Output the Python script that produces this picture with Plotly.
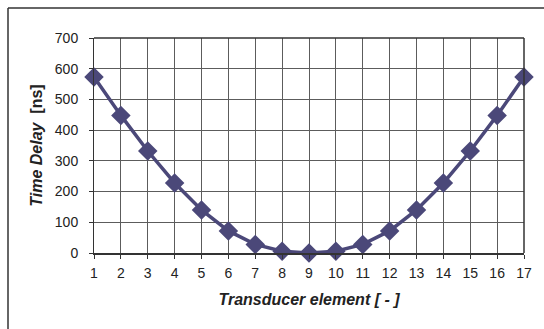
import plotly.graph_objects as go

# Transducer element index and the focusing time delay applied to each
elements = list(range(1, 18))
delay_ns = [573, 448, 332, 228, 140, 72, 28, 6, 0, 6, 28, 72, 140, 228, 332, 448, 573]

y_ticks = [0, 100, 200, 300, 400, 500, 600, 700]

line_color = "#4b4879"
grid_color = "#5c5c5c"
font_family = "Liberation Sans, Arial, sans-serif"

fig = go.Figure()
fig.add_trace(go.Scatter(
    x=elements,
    y=delay_ns,
    mode="lines+markers",
    line=dict(color=line_color, width=3.5),
    marker=dict(symbol="diamond", size=15, color=line_color),
    cliponaxis=False,
    showlegend=False,
))

fig.update_layout(
    width=544,
    height=329,
    margin=dict(l=94, r=15, t=38, b=76),
    paper_bgcolor="white",
    plot_bgcolor="white",
    font=dict(family=font_family, size=14, color="#222222"),
    xaxis=dict(
        range=[1, 17],
        tickmode="array",
        tickvals=elements,
        ticks="outside",
        ticklen=4,
        tickcolor="#333333",
        showgrid=True,
        gridcolor=grid_color,
        gridwidth=1,
        zeroline=False,
        showline=True,
        linecolor="#333333",
        linewidth=2,
        tickfont=dict(size=14),
        ticklabelstandoff=2,
        title=dict(text="<b><i>Transducer element [ - ]</i></b>",
                   font=dict(size=16), standoff=14),
    ),
    yaxis=dict(
        range=[0, 700],
        tickmode="array",
        tickvals=y_ticks,
        ticks="outside",
        ticklen=4,
        tickcolor="#333333",
        showgrid=True,
        gridcolor=grid_color,
        gridwidth=1,
        zeroline=False,
        showline=True,
        linecolor="#333333",
        linewidth=1,
        tickfont=dict(size=14),
        ticklabelstandoff=8,
        title=dict(text="<b><i>Time Delay</i>  [ns]</b>",
                   font=dict(size=16), standoff=8),
    ),
    shapes=[
        # frame around the plotting region (top and right edges)
        dict(type="line", xref="paper", yref="paper", x0=0, x1=1, y0=1, y1=1,
             line=dict(color="#333333", width=1.5)),
        dict(type="line", xref="paper", yref="paper", x0=1, x1=1, y0=0, y1=1,
             line=dict(color="#333333", width=1.5)),
        # outer chart border
        dict(type="line", xref="paper", yref="paper",
             x0=-87.0 / 435, x1=1.2, y0=(329 - 76 - 8) / 215.0, y1=(329 - 76 - 8) / 215.0,
             line=dict(color="#333333", width=1.5)),
        dict(type="line", xref="paper", yref="paper",
             x0=-87.0 / 435, x1=-87.0 / 435, y0=-0.5, y1=(329 - 76 - 8) / 215.0,
             line=dict(color="#333333", width=1.5)),
    ],
)

fig.write_html("out.html")
